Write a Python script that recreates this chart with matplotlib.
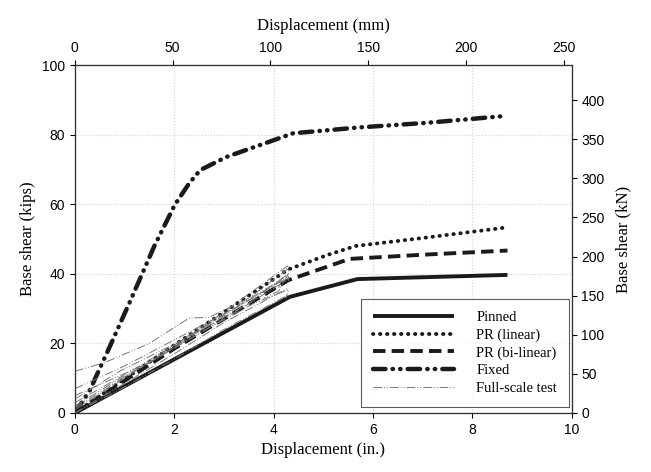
import numpy as np
import matplotlib.pyplot as plt

# model curves, displacement (in.) vs base shear (kips)
pin_x = [0, 4.33, 5.69, 8.71]
pin_y = [0, 33.4, 38.5, 39.7]
prl_x = [0, 2.0, 4.3, 5.1, 5.65, 7.0, 8.67]
prl_y = [0, 19.5, 41.3, 45.5, 48.0, 50.3, 53.3]
prb_x = [0, 2.0, 4.3, 5.53, 7.0, 8.71]
prb_y = [0, 18.5, 38.2, 44.3, 45.5, 46.7]
fix_x = [0, 0.3, 0.7, 1.14, 1.6, 2.01, 2.3, 2.52, 3.05, 3.86, 4.39, 5.73, 7.07, 8.68]
fix_y = [0, 6.5, 19.0, 33.0, 48.0, 59.8, 66.0, 69.8, 73.6, 77.7, 80.4, 82.1, 83.4, 85.4]

# full-scale test traces (digitised roughly)
tests = [
    ([0, 0.6, 1.5, 2.3, 2.7, 3.5, 4.3, 4.3], [12.0, 14.5, 20.0, 27.3, 27.5, 33.0, 41.5, 38.0]),
    ([0, 1.0, 2.0, 3.0, 4.0, 4.3], [7.0, 13.5, 21.0, 28.5, 37.0, 40.0]),
    ([0, 1.0, 2.0, 3.0, 4.2, 4.1], [3.0, 11.0, 19.5, 28.0, 38.5, 36.0]),
    ([0, 1.0, 2.0, 3.0, 4.3], [0.0, 8.5, 17.0, 26.0, 36.0]),
    ([0, 1.0, 2.0, 3.0, 4.3, 4.2], [1.0, 10.0, 19.5, 29.0, 42.5, 40.0]),
    ([0, 1.0, 2.0, 3.0, 4.3], [0.0, 7.5, 15.5, 24.0, 34.0]),
    ([0, 1.5, 2.5, 3.5, 4.3, 4.1, 3.8], [5.0, 14.5, 23.5, 31.5, 40.0, 35.0, 33.0]),
    ([0, 0.8, 1.8, 2.7, 3.6, 4.3, 4.25], [2.0, 9.0, 17.0, 24.5, 31.5, 35.5, 33.0]),
    ([0, 1.2, 2.4, 3.4, 4.3], [1.5, 12.0, 22.0, 30.5, 38.5]),
    ([0, 0.9, 2.1, 3.2, 4.3], [4.0, 12.0, 20.5, 30.0, 39.0]),
]

plt.rcParams['font.family'] = 'Liberation Sans'
fig = plt.figure(figsize=(6.51, 4.72), dpi=100)
ax = fig.add_axes([0.115, 0.125, 0.763, 0.737])

lw = 2.8
ax.plot(pin_x, pin_y, color='#1a1a1a', lw=lw, solid_capstyle='butt', label='Pinned')
ax.plot(prl_x, prl_y, color='#1a1a1a', lw=lw, linestyle=(0, (0.1, 1.7)),
        dash_capstyle='round', label='PR (linear)')
ax.plot(prb_x, prb_y, color='#1a1a1a', lw=lw, linestyle=(0, (3.2, 1.6)),
        label='PR (bi-linear)')
ax.plot(fix_x, fix_y, color='#1a1a1a', lw=3.2,
        linestyle=(0, (2.8, 1.6, 0.1, 1.6, 0.1, 1.6)), dash_capstyle='round',
        label='Fixed')
for i, (tx, ty) in enumerate(tests):
    ax.plot(tx, ty, color='#777777', lw=0.7,
            linestyle=(0, (9, 2, 1, 2, 1, 2)),
            label='Full-scale test' if i == 0 else None)

ax.set_xlim(0, 10)
ax.set_ylim(0, 100)
ax.set_xticks([0, 2, 4, 6, 8, 10])
ax.set_yticks([0, 20, 40, 60, 80, 100])
ax.grid(True, linestyle=':', color='#d0d0d0', lw=0.8)
ax.tick_params(direction='out', labelsize=10)
ax.set_xlabel('Displacement (in.)', family='Liberation Serif', fontsize=12)
ax.set_ylabel('Base shear (kips)', family='Liberation Serif', fontsize=12)

# secondary axes in SI units
top = ax.twiny()
top.set_xlim(0, 10 * 25.4)
top.set_xticks([0, 50, 100, 150, 200, 250])
top.tick_params(direction='out', labelsize=10)
top.set_xlabel('Displacement (mm)', family='Liberation Serif', fontsize=12, labelpad=8)

right = ax.twinx()
right.set_ylim(0, 100 * 4.448)
right.set_yticks(np.arange(0, 401, 50))
right.tick_params(direction='out', labelsize=10)
right.set_ylabel('Base shear (kN)', family='Liberation Serif', fontsize=12, labelpad=8)

leg = ax.legend(loc='lower right', bbox_to_anchor=(1.0, 0.01), borderaxespad=0.2,
                frameon=True, fancybox=False, edgecolor='#333333',
                handlelength=5.6, handletextpad=1.5,
                prop={'family': 'Liberation Serif', 'size': 10.5},
                borderpad=0.8, labelspacing=0.3)
leg.get_frame().set_linewidth(0.8)

for a in (ax, top, right):
    for s in a.spines.values():
        s.set_color('#333333')
        s.set_linewidth(0.8)

plt.savefig('out.png', dpi=100)
